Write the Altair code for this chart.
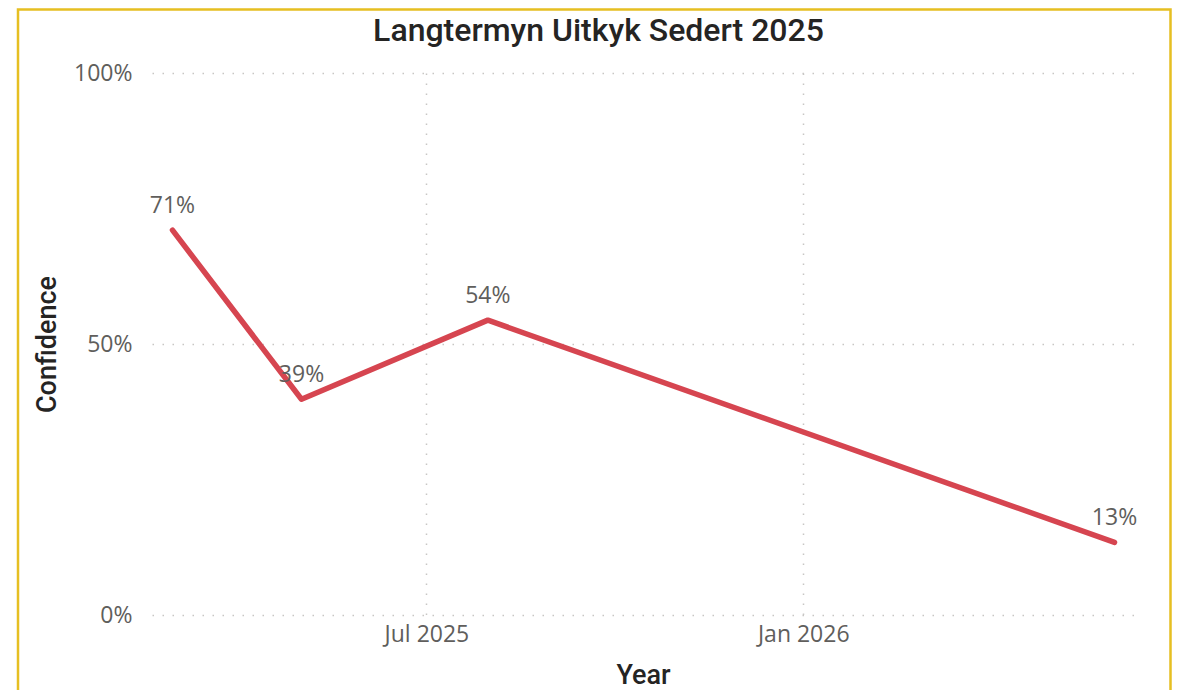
import altair as alt
import pandas as pd

# Data
dates = ["2025/02/27", "2025/05/01", "2025/07/31", "2026/06/02"]
confidence = [0.71, 0.398, 0.544, 0.134]
y_ticks = [0, 0.5, 1]

df = pd.DataFrame({"Year": dates, "Confidence": confidence})

W, H = 983, 542
LABEL_GRAY = "#605E5C"
DARK = "#252423"
RED = "#D64550"
YELLOW = "#E6BF22"

x_enc = alt.X(
    "Year:T",
    scale=alt.Scale(domain=[alt.DateTime(year=2025, month=2, date=17),
                            alt.DateTime(year=2026, month=6, date=12)]),
    axis=alt.Axis(
        values=[alt.DateTime(year=2025, month=7, date=1),
                alt.DateTime(year=2026, month=1, date=1)],
        format="%b %Y", title="Year", labelPadding=8,
        titleX=491, titleY=60, titleBaseline="middle", titleAlign="center",
    ),
)
y_enc = alt.Y(
    "Confidence:Q",
    scale=alt.Scale(domain=[0, 1]),
    axis=alt.Axis(values=y_ticks, format=".0%", title="Confidence",
                  labelPadding=20, titleX=-105, titleY=271, titleAngle=-90,
                  titleBaseline="middle", titleAlign="center"),
)

base = alt.Chart(df).encode(x=x_enc, y=y_enc)

line = base.mark_line(color=RED, strokeWidth=5.5, strokeCap="round", strokeJoin="round")
labels = base.transform_calculate(
    lbl="floor(datum.Confidence*100 + 1e-6) + '%'"
).mark_text(dy=-12, baseline="bottom", fontSize=23, color=LABEL_GRAY,
            font="Open Sans").encode(text="lbl:N")

border = alt.Chart(alt.Data(values=[{"a": 1}])).mark_rect(
    fillOpacity=0, stroke=YELLOW, strokeWidth=2.5, clip=False
).encode(x=alt.value(-134), x2=alt.value(1018.5), y=alt.value(-63.5), y2=alt.value(700))

chart = alt.layer(line, labels, border).properties(
    width=W, height=H,
    autosize=alt.AutoSizeParams(type="none"),
    padding={"left": 144, "top": 65, "right": 37, "bottom": 75},
    title=alt.TitleParams(
        "Langtermyn Uitkyk Sedert 2025", fontSize=32, font="Roboto",
        fontWeight=500, color=DARK, anchor="middle", frame="group",
        dx=-45, dy=65, offset=0, baseline="alphabetic",
    ),
).configure_view(stroke=None).configure_axis(
    grid=True, gridColor="#C8C6C4", gridDash=[1.5, 8.5], gridWidth=1.5,
    domain=False, ticks=False,
    labelFont="Open Sans", labelFontSize=23, labelColor=LABEL_GRAY,
    titleFont="Roboto", titleFontSize=27, titleFontWeight=500, titleColor=DARK,
)

chart.save("out.html", embed_options={"renderer": "svg", "actions": False})
